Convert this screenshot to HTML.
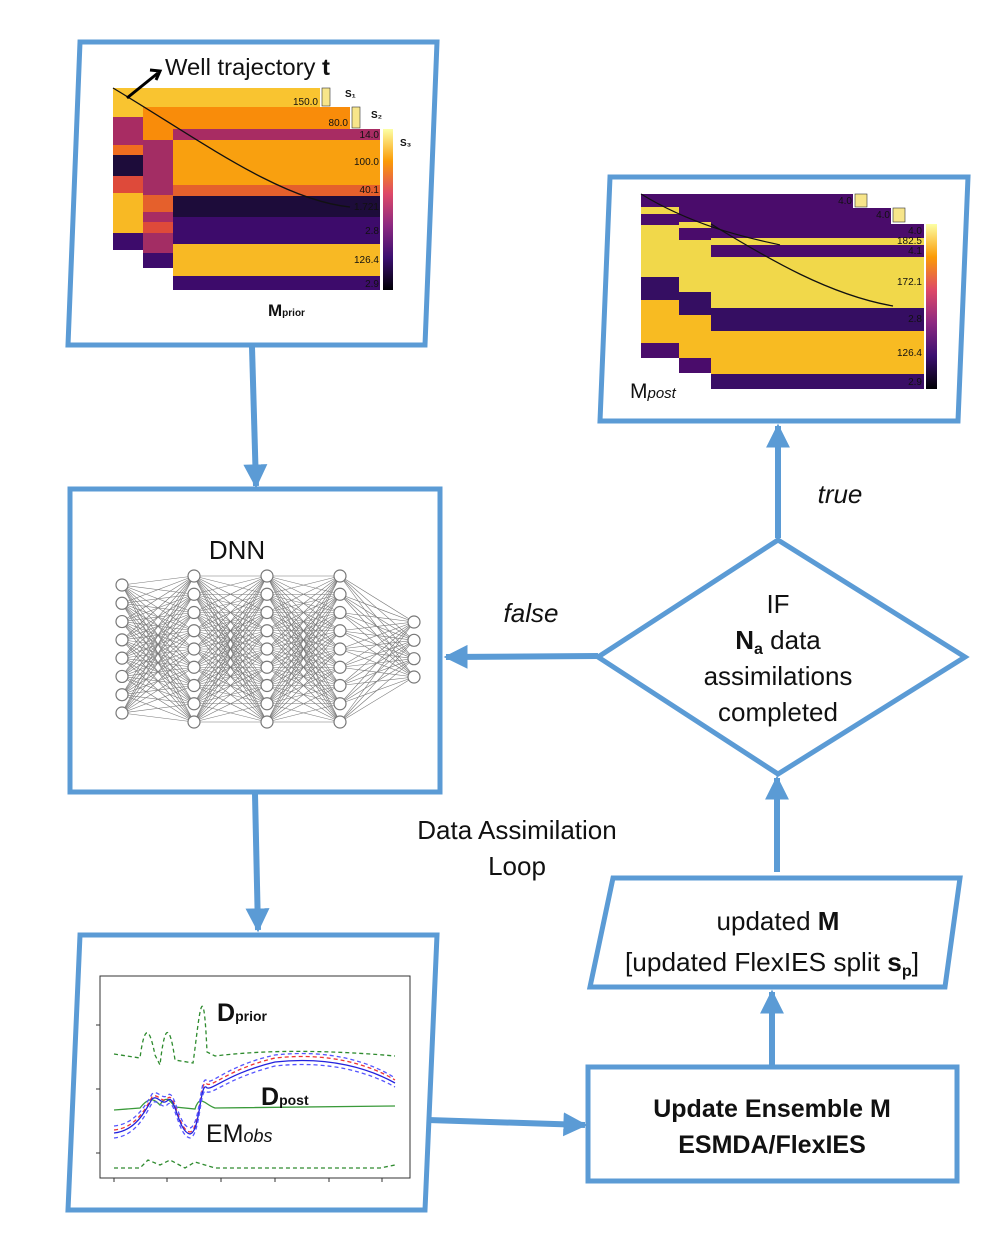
<!DOCTYPE html>
<html><head><meta charset="utf-8"><style>
html,body{margin:0;padding:0;background:#fff;}
svg{display:block;}
text{font-family:"Liberation Sans",sans-serif;fill:#111;}
</style></head><body>
<svg id="s" width="997" height="1246" viewBox="0 0 997 1246" xmlns="http://www.w3.org/2000/svg">
<defs>
<linearGradient id="inf" x1="0" y1="1" x2="0" y2="0">
<stop offset="0" stop-color="#000004"/><stop offset="0.2" stop-color="#3b0f70"/><stop offset="0.4" stop-color="#8c2981"/><stop offset="0.6" stop-color="#de4968"/><stop offset="0.8" stop-color="#fb9b06"/><stop offset="1" stop-color="#fcffa4"/>
</linearGradient>
<marker id="ah" viewBox="0 0 10 10" refX="9" refY="5" markerWidth="4" markerHeight="4" orient="auto"><path d="M0,0 L10,5 L0,10 z" fill="#5b9bd5"/></marker>
</defs>
<g fill="none" stroke="#5b9bd5" stroke-width="5">
<polygon points="80,42 437,42 425,345 68,345"/>
<polygon points="610,177 968,177 958,421 600,421"/>
<rect x="70" y="489" width="370" height="303"/>
<polygon points="80,935 437,935 425,1210 68,1210"/>
<rect x="588" y="1067" width="369" height="114"/>
<polygon points="613,878 960,878 945,987 590,987"/>
<polygon points="778,540 965,657 778,774 598,657"/>
</g>
<g stroke="#5b9bd5" stroke-width="6" fill="none" marker-end="url(#ah)">
<line x1="252" y1="347" x2="256" y2="486"/>
<line x1="255" y1="794" x2="258" y2="930"/>
<line x1="428" y1="1120" x2="585" y2="1125"/>
<line x1="772" y1="1065" x2="772" y2="992"/>
<line x1="777" y1="872" x2="777" y2="778"/>
<line x1="778" y1="538" x2="778" y2="426"/>
<line x1="598" y1="656" x2="446" y2="657"/>
</g>
<!-- prior heatmaps -->
<g>
<rect x="113" y="88" width="207" height="162" fill="#f9c430"/>
<rect x="113" y="117" width="30" height="28" fill="#a82c63"/>
<rect x="113" y="145" width="30" height="10" fill="#f06d1f"/>
<rect x="113" y="155" width="30" height="21" fill="#1d0c3a"/>
<rect x="113" y="176" width="30" height="17" fill="#de4a3a"/>
<rect x="113" y="193" width="30" height="40" fill="#f8b924"/>
<rect x="113" y="233" width="30" height="17" fill="#3d0b6b"/>
<rect x="322" y="88" width="8" height="18" fill="#f7e58a" stroke="#333" stroke-width="0.6"/>
<text x="345" y="97" font-size="10" font-weight="bold">S₁</text>
<text x="318" y="105" font-size="10" text-anchor="end">150.0</text>
<rect x="143" y="107" width="207" height="161" fill="#f98c0a"/>
<rect x="143" y="140" width="30" height="55" fill="#a32d64"/>
<rect x="143" y="195" width="30" height="17" fill="#e5602c"/>
<rect x="143" y="212" width="30" height="10" fill="#a82c63"/>
<rect x="143" y="222" width="30" height="11" fill="#de4a3a"/>
<rect x="143" y="233" width="30" height="20" fill="#a32d64"/>
<rect x="143" y="253" width="30" height="15" fill="#3d0b6b"/>
<rect x="352" y="107" width="8" height="21" fill="#f7e58a" stroke="#333" stroke-width="0.6"/>
<text x="371" y="118" font-size="10" font-weight="bold">S₂</text>
<text x="348" y="126" font-size="10" text-anchor="end">80.0</text>
<rect x="173" y="129" width="207" height="11" fill="#a82c63"/>
<rect x="173" y="140" width="207" height="45" fill="#f9a00f"/>
<rect x="173" y="185" width="207" height="11" fill="#e5602c"/>
<rect x="173" y="196" width="207" height="21" fill="#1d0c3a"/>
<rect x="173" y="217" width="207" height="27" fill="#3d0b6b"/>
<rect x="173" y="244" width="207" height="32" fill="#f8b924"/>
<rect x="173" y="276" width="207" height="14" fill="#3d0b6b"/>
<rect x="383" y="129" width="10" height="161" fill="url(#inf)"/>
<text x="400" y="146" font-size="10" font-weight="bold">S₃</text>
<g font-size="10" text-anchor="end" fill="#222">
<text x="379" y="138">14.0</text><text x="379" y="165">100.0</text><text x="379" y="193">40.1</text>
<text x="379" y="210">1.721</text><text x="379" y="234">2.8</text><text x="379" y="263">126.4</text><text x="379" y="287">2.9</text>
</g>
<path d="M113,88 C200,140 280,200 350,207" stroke="#111" stroke-width="1.3" fill="none"/>
<path d="M127,98 L158,73" stroke="#000" stroke-width="3"/>
<path d="M150,70 L160,71 L156,80" stroke="#000" stroke-width="3" fill="none"/>
<text x="165" y="75" font-size="23" textLength="165" lengthAdjust="spacingAndGlyphs">Well trajectory <tspan font-weight="bold">t</tspan></text>
<text x="268" y="316" font-size="17" font-weight="bold">M<tspan font-size="10">prior</tspan></text>
</g>
<!-- post heatmaps -->
<g>
<rect x="641" y="194" width="212" height="164" fill="#4a0c6b"/>
<rect x="641" y="207" width="38" height="7" fill="#f1d84a"/>
<rect x="641" y="225" width="38" height="52" fill="#f1d84a"/>
<rect x="641" y="277" width="38" height="23" fill="#350e62"/>
<rect x="641" y="300" width="38" height="43" fill="#f8bb22"/>
<rect x="855" y="194" width="12" height="13" fill="#f7e58a" stroke="#333" stroke-width="0.6"/>
<text x="852" y="204" font-size="10" text-anchor="end">4.0</text>
<rect x="679" y="208" width="212" height="165" fill="#4a0c6b"/>
<rect x="679" y="222" width="32" height="6" fill="#f1d84a"/>
<rect x="679" y="240" width="32" height="52" fill="#f1d84a"/>
<rect x="679" y="292" width="32" height="23" fill="#350e62"/>
<rect x="679" y="315" width="32" height="43" fill="#f8bb22"/>
<rect x="893" y="208" width="12" height="14" fill="#f7e58a" stroke="#333" stroke-width="0.6"/>
<text x="890" y="218" font-size="10" text-anchor="end">4.0</text>
<rect x="711" y="224" width="213" height="165" fill="#4a0c6b"/>
<rect x="711" y="238" width="213" height="7" fill="#f1d84a"/>
<rect x="711" y="257" width="213" height="51" fill="#f1d84a"/>
<rect x="711" y="308" width="213" height="23" fill="#350e62"/>
<rect x="711" y="331" width="213" height="43" fill="#f8bb22"/>
<rect x="711" y="374" width="213" height="15" fill="#3a0e66"/>
<rect x="926" y="224" width="11" height="165" fill="url(#inf)"/>
<g font-size="10" text-anchor="end" fill="#222">
<text x="922" y="234">4.0</text><text x="922" y="244">182.5</text><text x="922" y="254">4.1</text>
<text x="922" y="285">172.1</text><text x="922" y="322">2.8</text><text x="922" y="356">126.4</text><text x="922" y="385">2.9</text>
</g>
<path d="M641,194 C700,230 760,240 780,245" stroke="#111" stroke-width="1.2" fill="none"/>
<path d="M711,224 C770,260 830,295 893,306" stroke="#111" stroke-width="1.3" fill="none"/>
<text x="630" y="398" font-size="21">M<tspan font-size="15" font-style="italic">post</tspan></text>
</g>
<!-- DNN -->
<text x="237" y="559" font-size="26" text-anchor="middle">DNN</text>
<g id="nn"></g>
<!-- plot -->
<g>
<rect x="100" y="976" width="310" height="202" fill="#fff" stroke="#333" stroke-width="1"/>
<g stroke="#333" stroke-width="1">
<line x1="96" y1="1025" x2="100" y2="1025"/><line x1="96" y1="1089" x2="100" y2="1089"/><line x1="96" y1="1153" x2="100" y2="1153"/>
<line x1="114" y1="1178" x2="114" y2="1182"/><line x1="167" y1="1178" x2="167" y2="1182"/><line x1="221" y1="1178" x2="221" y2="1182"/><line x1="275" y1="1178" x2="275" y2="1182"/><line x1="329" y1="1178" x2="329" y2="1182"/><line x1="382" y1="1178" x2="382" y2="1182"/>
</g>
<g fill="none" stroke-width="1.3">
<path d="M114,1054 L140,1058 C145,1020 150,1030 155,1055 L160,1065 C165,1020 170,1025 175,1060 L193,1063 C198,1030 203,960 207,1052 L215,1056 C280,1048 350,1052 395,1056" stroke="#2e8b2e" stroke-dasharray="4,3"/>
<path d="M114,1168 L140,1168 L148,1160 L160,1165 L170,1160 L185,1168 L195,1162 L205,1165 L215,1168 L380,1168 L395,1165" stroke="#2e8b2e" stroke-dasharray="4,3"/>
<path d="M114,1110 L140,1108 C150,1095 155,1100 160,1105 C165,1095 170,1100 175,1107 L195,1109 C200,1093 205,1105 215,1108 L395,1106" stroke="#3a9a3a"/>
<path d="M114,1130 C135,1128 145,1110 152,1097 C158,1092 162,1105 168,1098 C175,1092 178,1130 190,1132 C200,1130 200,1080 206,1083 C210,1090 225,1070 275,1058 C330,1052 370,1065 395,1080" stroke="#e33" stroke-dasharray="4,3"/>
<path d="M114,1133 C135,1131 145,1112 152,1099 C158,1094 162,1107 168,1100 C175,1094 178,1132 190,1134 C200,1132 200,1084 206,1087 C210,1093 225,1074 275,1062 C330,1056 370,1069 395,1083" stroke="#22d"/>
<path d="M114,1126 C135,1124 145,1106 152,1094 C158,1089 162,1101 168,1095 C175,1089 178,1126 190,1128 C200,1126 200,1078 206,1080 C210,1087 225,1066 275,1055 C330,1049 370,1062 395,1078" stroke="#55f" stroke-dasharray="4,3"/>
<path d="M114,1138 C135,1136 145,1116 152,1103 C158,1098 162,1111 168,1104 C175,1098 178,1136 190,1138 C200,1136 200,1088 206,1091 C210,1097 225,1079 275,1066 C330,1060 370,1073 395,1087" stroke="#55f" stroke-dasharray="4,3"/>
</g>
<text x="217" y="1021" font-size="25" font-weight="bold">D<tspan font-size="14">prior</tspan></text>
<text x="261" y="1105" font-size="25" font-weight="bold">D<tspan font-size="14">post</tspan></text>
<text x="206" y="1142" font-size="25">EM<tspan font-size="18" font-style="italic">obs</tspan></text>
</g>
<!-- labels -->
<text x="531" y="622" font-size="26" font-style="italic" text-anchor="middle">false</text>
<text x="840" y="503" font-size="26" font-style="italic" text-anchor="middle">true</text>
<g font-size="26" text-anchor="middle">
<text x="778" y="613">IF</text>
<text x="778" y="649"><tspan font-weight="bold">N<tspan font-size="16" dy="5">a</tspan></tspan><tspan dy="-5"> data</tspan></text>
<text x="778" y="685">assimilations</text>
<text x="778" y="721">completed</text>
<text x="517" y="839">Data Assimilation</text>
<text x="517" y="875">Loop</text>
<text x="778" y="930">updated <tspan font-weight="bold">M</tspan></text>
<text x="772" y="971" textLength="294" lengthAdjust="spacingAndGlyphs">[updated FlexIES split <tspan font-weight="bold">s<tspan font-size="16" dy="5">p</tspan></tspan><tspan dy="-5">]</tspan></text>
<text x="772" y="1117" font-weight="bold" font-size="25">Update Ensemble M</text>
<text x="772" y="1153" font-weight="bold" font-size="25">ESMDA/FlexIES</text>
</g>
</svg>
<script>
(function(){
var g=document.getElementById('nn'),ns='http://www.w3.org/2000/svg';
function ys(n,a,b){var r=[];for(var i=0;i<n;i++)r.push(a+(b-a)*i/(n-1));return r;}
var L=[[122,ys(8,585,713)],[194,ys(9,576,722)],[267,ys(9,576,722)],[340,ys(9,576,722)],[414,ys(4,622,677)]];
for(var l=0;l<4;l++){var A=L[l],B=L[l+1];A[1].forEach(function(y1){B[1].forEach(function(y2){var e=document.createElementNS(ns,'line');e.setAttribute('x1',A[0]);e.setAttribute('y1',y1);e.setAttribute('x2',B[0]);e.setAttribute('y2',y2);e.setAttribute('stroke','#777');e.setAttribute('stroke-width','0.6');g.appendChild(e);});});}
L.forEach(function(Ly){Ly[1].forEach(function(y){var c=document.createElementNS(ns,'circle');c.setAttribute('cx',Ly[0]);c.setAttribute('cy',y);c.setAttribute('r',6);c.setAttribute('fill','#fff');c.setAttribute('stroke','#777');c.setAttribute('stroke-width','1.2');g.appendChild(c);});});
})();
</script>
</body></html>
